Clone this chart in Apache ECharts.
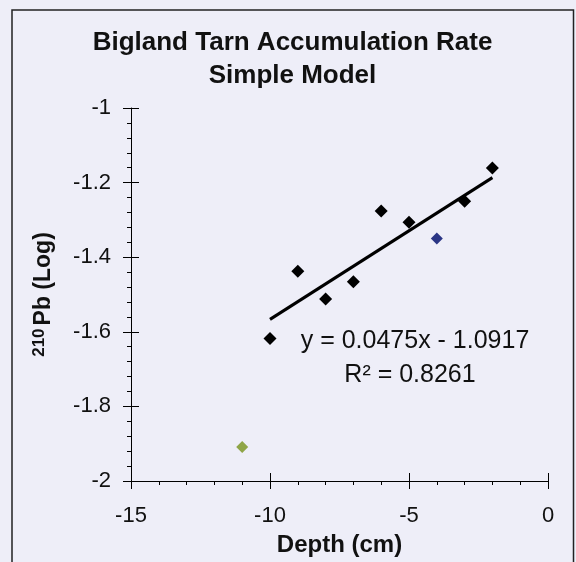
<!DOCTYPE html>
<html>
<head>
<meta charset="utf-8">
<script src="https://cdn.jsdelivr.net/npm/echarts@6/dist/echarts.min.js"></script>
<style>
  html, body { margin: 0; padding: 0; background: #eeeef8; }
  #chart { width: 576px; height: 562px; }
</style>
</head>
<body>
<div id="chart"></div>
<script>
// ---- data ----
const depthBlack = [-2, -3, -5, -6, -7, -8, -9, -10];
const logBlack   = [-1.161, -1.250, -1.306, -1.276, -1.466, -1.512, -1.438, -1.618];
const depthBlue  = [-4];
const logBlue    = [-1.350];
const depthGreen = [-11];
const logGreen   = [-1.909];
// trendline as printed on the chart
const trendSlope = 0.0475;
const trendIntercept = -1.0917;
const trendRange = [-10, -2];
const xTicks = { min: -15, max: 0, interval: 5 };
const yTicks = { min: -2, max: -1, interval: 0.2 };
const titleText = 'Bigland Tarn Accumulation Rate\nSimple Model';
const eqText = 'y = 0.0475x - 1.0917';
const r2Text = 'R² = 0.8261';

const FONT = '"Liberation Sans", Arial, sans-serif';
const pairs = (xs, ys) => xs.map((x, i) => [x, ys[i]]);
const trendData = trendRange.map(x => [x, trendSlope * x + trendIntercept]);

const W = 576, H = 562;
const G = { left: 131, right: 28, top: 108, bottom: 81 };
const plotW = W - G.left - G.right;
const plotH = H - G.top - G.bottom;

const chart = echarts.init(document.getElementById('chart'));
chart.setOption({
  backgroundColor: '#eeeef8',
  animation: false,
  title: {
    text: titleText,
    left: 292.5, top: 26, padding: 0,
    textAlign: 'center',
    textStyle: { fontFamily: FONT, fontSize: 26, fontWeight: 'bold', color: '#111', lineHeight: 33 }
  },
  grid: G,
  xAxis: [
    {
      type: 'value', min: xTicks.min, max: xTicks.max, interval: xTicks.interval,
      position: 'bottom',
      axisLine: { show: true, onZero: false, lineStyle: { color: '#000', width: 1 } },
      splitLine: { show: false },
      axisTick: { show: true, inside: false, length: 8, lineStyle: { color: '#000' } },
      minorTick: { show: true, splitNumber: 5, length: 4, lineStyle: { color: '#000' } },
      minorSplitLine: { show: false },
      axisLabel: { margin: 24, fontFamily: FONT, fontSize: 22, color: '#111' },
      name: 'Depth (cm)', nameLocation: 'middle', nameGap: 52,
      nameTextStyle: { fontFamily: FONT, fontSize: 24, fontWeight: 'bold', color: '#111' }
    },
    {
      type: 'value', min: xTicks.min, max: xTicks.max, interval: xTicks.interval,
      position: 'top', offset: -plotH,
      axisLine: { show: false, onZero: false }, splitLine: { show: false },
      axisTick: { show: true, inside: false, length: 8, lineStyle: { color: '#000' } },
      axisLabel: { show: false }
    }
  ],
  yAxis: [
    {
      type: 'value', min: yTicks.min, max: yTicks.max, interval: yTicks.interval,
      position: 'left',
      axisLine: { show: true, onZero: false, lineStyle: { color: '#000', width: 1 } },
      splitLine: { show: false },
      axisTick: { show: true, inside: false, length: 8, lineStyle: { color: '#000' } },
      minorTick: { show: true, splitNumber: 5, length: 4, lineStyle: { color: '#000' } },
      minorSplitLine: { show: false },
      axisLabel: { margin: 20, fontFamily: FONT, fontSize: 22, color: '#111' },
      name: '{sup|210}{main|Pb (Log)}', nameLocation: 'middle', nameGap: 74, nameRotate: 90,
      nameTextStyle: {
        fontFamily: FONT, fontWeight: 'bold', color: '#111',
        rich: {
          sup: { fontFamily: FONT, fontSize: 17, fontWeight: 'bold', color: '#111', verticalAlign: 'top', lineHeight: 26, padding: [0, 3, 0, 0] },
          main: { fontFamily: FONT, fontSize: 23, fontWeight: 'bold', color: '#111', lineHeight: 26 }
        }
      }
    },
    {
      type: 'value', min: yTicks.min, max: yTicks.max, interval: yTicks.interval,
      position: 'right', offset: -plotW,
      axisLine: { show: false, onZero: false }, splitLine: { show: false },
      axisTick: { show: true, inside: false, length: 8, lineStyle: { color: '#000' } },
      axisLabel: { show: false }
    }
  ],
  graphic: [
    {
      type: 'rect', z: -10, silent: true,
      shape: { x: 12, y: 10, width: 561.5, height: 570 },
      style: { fill: 'none', stroke: '#222', lineWidth: 1.5 }
    },
    {
      type: 'text', x: 415, y: 341, silent: true,
      style: { text: eqText, font: '25px ' + FONT, fill: '#111', align: 'center', verticalAlign: 'middle' }
    },
    {
      type: 'text', x: 410, y: 375, silent: true,
      style: { text: r2Text, font: '25px ' + FONT, fill: '#111', align: 'center', verticalAlign: 'middle' }
    }
  ],
  series: [
    {
      type: 'line', data: trendData, xAxisIndex: 0, yAxisIndex: 0,
      symbol: 'none', lineStyle: { color: '#000', width: 3 }, z: 2
    },
    {
      type: 'scatter', data: pairs(depthBlack, logBlack), xAxisIndex: 0, yAxisIndex: 0,
      symbol: 'diamond', symbolSize: 13, itemStyle: { color: '#000', opacity: 1 }, z: 3
    },
    {
      type: 'scatter', data: pairs(depthBlue, logBlue), xAxisIndex: 0, yAxisIndex: 0,
      symbol: 'diamond', symbolSize: 12, itemStyle: { color: '#2a3585', opacity: 1 }, z: 3
    },
    {
      type: 'scatter', data: pairs(depthGreen, logGreen), xAxisIndex: 0, yAxisIndex: 0,
      symbol: 'diamond', symbolSize: 12, itemStyle: { color: '#8fa548', opacity: 1 }, z: 3
    }
  ]
});
</script>
</body>
</html>
